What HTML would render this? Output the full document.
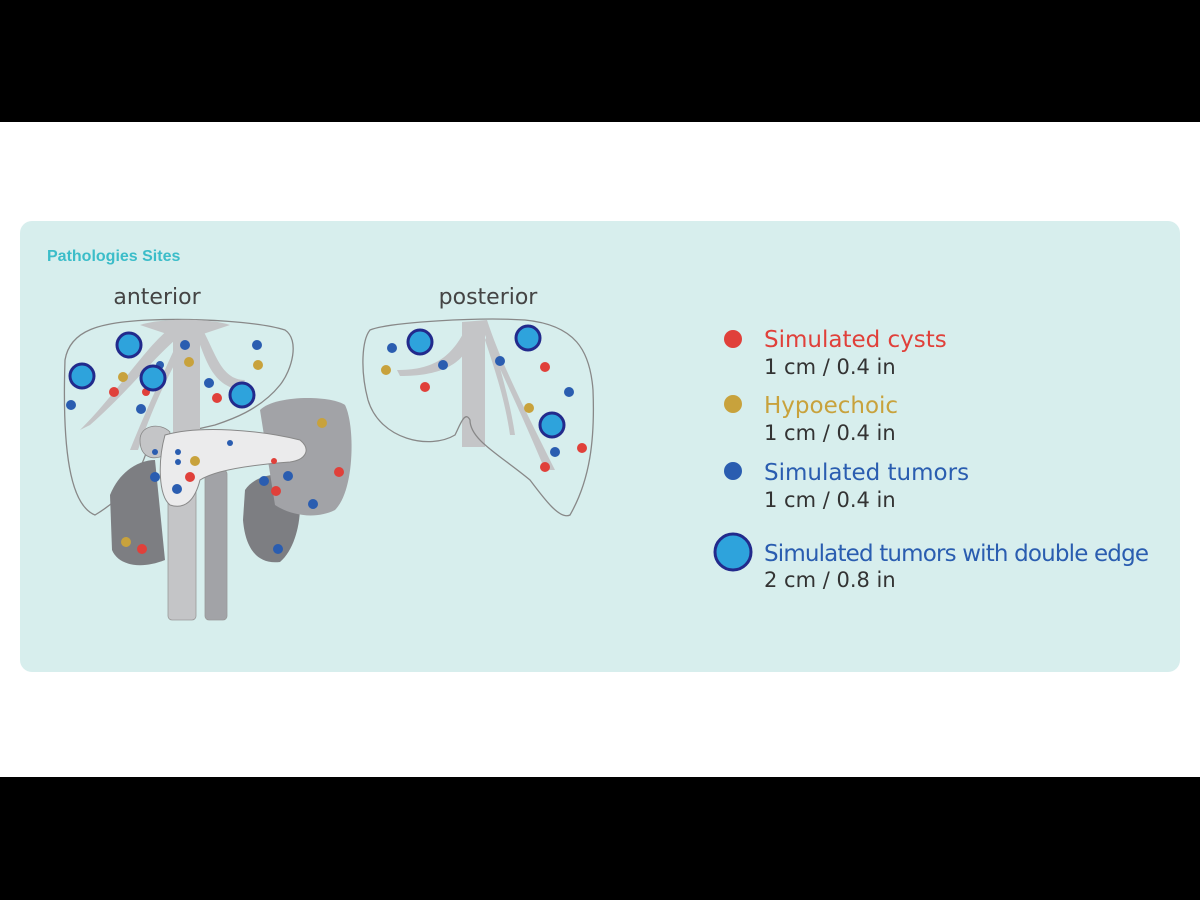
<!DOCTYPE html>
<html><head><style>
body{margin:0;width:1200px;height:900px;background:#fff;position:relative;overflow:hidden;font-family:"Liberation Sans",sans-serif}
.band{position:absolute;left:0;width:1200px;background:#000}
</style></head><body>
<div class="band" style="top:0;height:122px"></div>
<div class="band" style="top:777px;height:123px"></div>
<svg style="position:absolute;left:0;top:0" width="1200" height="900">
<rect x="20" y="221" width="1160" height="451" rx="12" fill="#d7eeed"/>
<text x="47" y="261" font-size="16" font-weight="bold" fill="#3bbdc9" font-family="Liberation Sans">Pathologies Sites</text>
<text x="157" y="304" font-size="22" fill="#444" text-anchor="middle" font-family="DejaVu Sans">anterior</text>
<text x="488" y="304" font-size="22" fill="#444" text-anchor="middle" font-family="DejaVu Sans">posterior</text>
<!-- anterior -->
<path d="M65,360 C70,330 100,322 150,320 C200,318 260,322 285,330 C300,340 292,370 280,385 C260,410 230,420 215,425 L150,440 C140,480 120,500 95,515 C70,505 62,450 65,360Z" fill="none" stroke="#888" stroke-width="1.3"/>
<path d="M205,400 C245,395 275,405 270,440 C240,460 200,460 170,450Z" fill="none"/>
<path d="M173,330 L200,330 L200,470 L173,470Z" fill="#c4c5c7"/>
<path d="M175,325 C150,340 120,390 80,430 L90,425 C130,390 160,350 185,332Z" fill="#c4c5c7"/>
<path d="M185,325 C170,360 150,400 130,450 L138,450 C155,400 175,360 195,330Z" fill="#c4c5c7"/>
<path d="M200,325 C215,350 220,380 245,380 L240,390 C210,385 205,355 195,332Z" fill="#c4c5c7"/>
<path d="M140,325 C160,318 210,318 230,325 L200,335 L170,335Z" fill="#c4c5c7"/>
<path d="M110,495 C120,470 140,460 155,460 L165,560 C140,570 118,565 112,550Z" fill="#7d7e82"/>
<path d="M245,490 C255,475 280,470 295,480 C305,500 300,545 280,562 C255,565 245,545 243,520Z" fill="#7d7e82"/>
<path d="M260,410 C275,395 330,395 345,405 C355,425 355,490 335,510 C315,520 290,515 275,505Z" fill="#a2a3a7"/>
<rect x="168" y="470" width="28" height="150" rx="4" fill="#c4c5c7" stroke="#999" stroke-width="0.8"/>
<rect x="205" y="470" width="22" height="150" rx="4" fill="#a2a3a7" stroke="#999" stroke-width="0.8"/>
<path d="M140,440 C140,425 160,422 170,432 L165,455 C150,462 140,455 140,440Z" fill="#c4c5c7" stroke="#888" stroke-width="0.8"/>
<path d="M165,435 C200,425 260,430 300,440 C312,450 305,460 290,462 C250,465 215,470 200,480 C195,500 185,510 170,505 C158,495 158,460 165,435Z" fill="#ebebec" stroke="#888" stroke-width="1"/>
<g fill="#2a5db0"><circle cx="185" cy="345" r="5"/><circle cx="257" cy="345" r="5"/><circle cx="160" cy="365" r="4"/><circle cx="209" cy="383" r="5"/><circle cx="71" cy="405" r="5"/><circle cx="141" cy="409" r="5"/><circle cx="155" cy="477" r="5"/><circle cx="177" cy="489" r="5"/><circle cx="288" cy="476" r="5"/><circle cx="264" cy="481" r="5"/><circle cx="278" cy="549" r="5"/><circle cx="313" cy="504" r="5"/><circle cx="230" cy="443" r="3"/><circle cx="178" cy="452" r="3"/><circle cx="178" cy="462" r="3"/><circle cx="155" cy="452" r="3"/></g>
<g fill="#e0403a"><circle cx="114" cy="392" r="5"/><circle cx="146" cy="392" r="4"/><circle cx="217" cy="398" r="5"/><circle cx="190" cy="477" r="5"/><circle cx="276" cy="491" r="5"/><circle cx="339" cy="472" r="5"/><circle cx="142" cy="549" r="5"/><circle cx="274" cy="461" r="3"/></g>
<g fill="#c8a23c"><circle cx="123" cy="377" r="5"/><circle cx="189" cy="362" r="5"/><circle cx="258" cy="365" r="5"/><circle cx="322" cy="423" r="5"/><circle cx="195" cy="461" r="5"/><circle cx="126" cy="542" r="5"/></g>
<g fill="#2ea3dc" stroke="#222a8c" stroke-width="3"><circle cx="129" cy="345" r="12"/><circle cx="82" cy="376" r="12"/><circle cx="153" cy="378" r="12"/><circle cx="242" cy="395" r="12"/></g>
<!-- posterior -->
<path d="M462,322 L487,320 C500,360 520,400 555,470 L545,470 C520,410 500,370 485,335 L485,447 L462,447Z" fill="#c4c5c7"/>
<path d="M465,330 C450,360 430,370 397,370 L400,376 C440,376 460,365 470,345Z" fill="#c4c5c7"/>
<path d="M490,330 C500,370 510,400 515,435 L510,435 C505,400 495,370 485,340Z" fill="#c4c5c7"/>
<path d="M370,330 C390,322 480,317 525,320 C575,325 590,350 593,390 C595,440 590,480 570,515 C560,520 545,500 530,480 C500,455 470,440 470,420 C465,410 460,425 455,435 C430,450 380,440 368,400 C360,370 362,340 370,330Z" fill="none" stroke="#888" stroke-width="1.3"/>
<g fill="#2a5db0"><circle cx="392" cy="348" r="5"/><circle cx="443" cy="365" r="5"/><circle cx="500" cy="361" r="5"/><circle cx="569" cy="392" r="5"/><circle cx="555" cy="452" r="5"/></g>
<g fill="#e0403a"><circle cx="425" cy="387" r="5"/><circle cx="545" cy="367" r="5"/><circle cx="582" cy="448" r="5"/><circle cx="545" cy="467" r="5"/></g>
<g fill="#c8a23c"><circle cx="386" cy="370" r="5"/><circle cx="529" cy="408" r="5"/></g>
<g fill="#2ea3dc" stroke="#222a8c" stroke-width="3"><circle cx="420" cy="342" r="12"/><circle cx="528" cy="338" r="12"/><circle cx="552" cy="425" r="12"/></g>
<!-- legend -->
<circle cx="733" cy="339" r="9" fill="#e0403a"/>
<circle cx="733" cy="404" r="9" fill="#c8a23c"/>
<circle cx="733" cy="471" r="9" fill="#2a5db0"/>
<circle cx="733" cy="552" r="18" fill="#2ea3dc" stroke="#222a8c" stroke-width="3"/>
<g font-family="DejaVu Sans" font-size="23">
<text x="764" y="347" fill="#e0403a">Simulated cysts</text>
<text x="764" y="374" fill="#333" font-size="21">1 cm / 0.4 in</text>
<text x="764" y="413" fill="#c8a23c">Hypoechoic</text>
<text x="764" y="440" fill="#333" font-size="21">1 cm / 0.4 in</text>
<text x="764" y="480" fill="#2a5db0">Simulated tumors</text>
<text x="764" y="507" fill="#333" font-size="21">1 cm / 0.4 in</text>
<text x="764" y="561" fill="#2a5db0" textLength="385">Simulated tumors with double edge</text>
<text x="764" y="587" fill="#333" font-size="21">2 cm / 0.8 in</text>
</g>
</svg>
</body></html>
